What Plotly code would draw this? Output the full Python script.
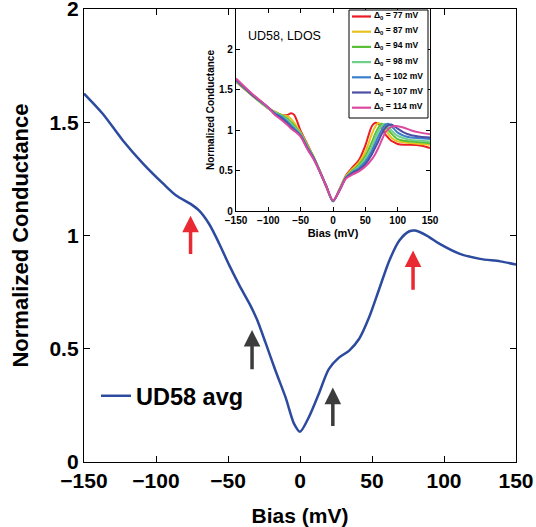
import plotly.graph_objects as go

# ---------------- data ----------------
bias_main = [-150, -137, -123, -109, -95, -86, -76, -70, -63, -56, -49, -42, -35, -30, -24, -17, -10, -4, 0,
             6, 13, 20, 27, 34, 41, 48, 55, 62, 69, 76, 80, 88, 97, 111, 125, 139, 150]
g_main = [1.627, 1.538, 1.42, 1.318, 1.229, 1.177, 1.14, 1.11, 1.05, 0.963, 0.867, 0.779, 0.698, 0.631, 0.528,
          0.403, 0.285, 0.167, 0.134, 0.196, 0.30, 0.41, 0.461, 0.491, 0.543, 0.639, 0.764, 0.889, 0.978, 1.019,
          1.022, 1.0, 0.963, 0.919, 0.897, 0.886, 0.872]
main_label = "UD58 avg"

bias_in = [-150, -125, -100, -90, -80, -70, -65, -60, -55, -50, -40, -30, -20, -10, 0, 10, 20, 30, 40, 50,
           60, 65, 70, 75, 80, 85, 90, 95, 100, 110, 120, 135, 150]
g_77 = [1.60, 1.43, 1.27, 1.23, 1.19, 1.19, 1.21, 1.19, 1.10, 0.99, 0.83, 0.67, 0.49, 0.29, 0.12, 0.27, 0.44,
        0.54, 0.63, 0.81, 1.05, 1.09, 1.08, 1.04, 0.96, 0.91, 0.87, 0.85, 0.83, 0.82, 0.82, 0.81, 0.78]
g_87 = [1.61, 1.43, 1.27, 1.23, 1.19, 1.17, 1.14, 1.09, 1.03, 0.97, 0.82, 0.67, 0.49, 0.30, 0.12, 0.27, 0.43,
        0.52, 0.60, 0.73, 0.95, 1.04, 1.09, 1.07, 1.02, 0.96, 0.91, 0.88, 0.86, 0.85, 0.84, 0.83, 0.82]
g_94 = [1.61, 1.43, 1.27, 1.22, 1.19, 1.14, 1.10, 1.06, 1.01, 0.96, 0.81, 0.67, 0.49, 0.30, 0.12, 0.26, 0.42,
        0.50, 0.57, 0.68, 0.85, 0.95, 1.03, 1.08, 1.06, 1.01, 0.96, 0.92, 0.89, 0.87, 0.86, 0.85, 0.84]
g_98 = [1.62, 1.44, 1.27, 1.22, 1.18, 1.12, 1.08, 1.04, 1.00, 0.95, 0.80, 0.66, 0.49, 0.30, 0.12, 0.26, 0.42,
        0.49, 0.55, 0.64, 0.79, 0.89, 0.98, 1.05, 1.08, 1.05, 1.00, 0.96, 0.93, 0.90, 0.88, 0.87, 0.86]
g_102 = [1.62, 1.44, 1.28, 1.21, 1.17, 1.10, 1.06, 1.02, 0.98, 0.94, 0.79, 0.66, 0.48, 0.30, 0.12, 0.26, 0.41,
         0.48, 0.53, 0.61, 0.74, 0.83, 0.92, 1.00, 1.06, 1.08, 1.05, 1.01, 0.97, 0.93, 0.91, 0.90, 0.89]
g_107 = [1.63, 1.44, 1.28, 1.20, 1.15, 1.08, 1.04, 1.00, 0.97, 0.93, 0.78, 0.65, 0.48, 0.30, 0.13, 0.25, 0.41,
         0.47, 0.51, 0.58, 0.70, 0.78, 0.86, 0.95, 1.02, 1.06, 1.07, 1.05, 1.02, 0.97, 0.94, 0.92, 0.91]
g_114 = [1.64, 1.45, 1.28, 1.19, 1.13, 1.06, 1.02, 0.99, 0.96, 0.92, 0.77, 0.64, 0.48, 0.30, 0.13, 0.25, 0.40,
         0.45, 0.49, 0.55, 0.64, 0.70, 0.78, 0.87, 0.96, 1.01, 1.04, 1.05, 1.05, 1.03, 1.00, 0.97, 0.95]
inset_series = [g_77, g_87, g_94, g_98, g_102, g_107, g_114]
delta_labels = ["77", "87", "94", "98", "102", "107", "114"]
inset_colors = ["#ec1c24", "#e6c21e", "#5cbf3a", "#6fd08c", "#3b7fcb", "#4d4fa6", "#dc4a9f"]

# arrows: x position, head value, tail value
arrow_x = [-76, 78.5, -33.3, 22.8]
arrow_head = [1.088, 0.934, 0.583, 0.329]
arrow_tail = [0.912, 0.754, 0.403, 0.152]
arrow_colors = ["#ea2a33", "#ea2a33", "#3c3c3c", "#3c3c3c"]

x_ticks = [-150, -100, -50, 0, 50, 100, 150]
y_ticks = [0, 0.5, 1, 1.5, 2]
y_ticktext = ["0", "0.5", "1", "1.5", "2"]

FONT = "Liberation Sans, Arial, sans-serif"

# layout geometry (pixels) -> paper coordinates
W, H = 536, 527
ML, MR, MT, MB = 84, 20, 9, 65
PW, PH = W - ML - MR, H - MT - MB


def px(xp):
    return (xp - ML) / PW


def py(yp):
    return (H - MB - yp) / PH


fig = go.Figure()
fig.add_trace(go.Scatter(x=bias_main, y=g_main, mode="lines", name=main_label,
                         line=dict(color="#2c4a9e", width=2.5, shape="spline", smoothing=0.8),
                         legend="legend2", xaxis="x", yaxis="y"))
for vals, lab, col in zip(inset_series, delta_labels, inset_colors):
    fig.add_trace(go.Scatter(x=bias_in, y=vals, mode="lines",
                             name="Δ<sub>0</sub> = " + lab + " mV",
                             line=dict(color=col, width=2, shape="spline", smoothing=0.8),
                             showlegend=False, xaxis="x2", yaxis="y2"))

for ax_, hd, tl, c in zip(arrow_x, arrow_head, arrow_tail, arrow_colors):
    fig.add_annotation(x=ax_, y=hd, ax=ax_, ay=tl, xref="x", yref="y", axref="x", ayref="y",
                       text="", showarrow=True, arrowhead=2, arrowsize=0.95, arrowwidth=3.5,
                       arrowcolor=c, standoff=0)

fig.add_annotation(x=-135, y=2.17, xref="x2", yref="y2", text="UD58, LDOS", showarrow=False,
                   xanchor="left", yanchor="middle", font=dict(family=FONT, size=12.5, color="black"))

# inset legend (box, line samples, labels)
shapes = [dict(type="rect", xref="paper", yref="paper", x0=px(349), x1=px(428), y0=py(118), y1=py(10),
               line=dict(color="black", width=1), fillcolor="white", layer="above")]
for i, (lab, col) in enumerate(zip(delta_labels, inset_colors)):
    yy = 16.5 + i * 15.2
    shapes.append(dict(type="line", xref="paper", yref="paper", x0=px(352), x1=px(371), y0=py(yy), y1=py(yy),
                       line=dict(color=col, width=2.2), layer="above"))
    fig.add_annotation(x=px(372), y=py(yy - 1), xref="paper", yref="paper", xanchor="left", yanchor="middle",
                       text="<b>Δ<sub>0</sub> = " + lab + " mV</b>", showarrow=False,
                       font=dict(family=FONT, size=8.5, color="black"))

axis_common = dict(showline=True, linecolor="black", linewidth=1.3, mirror="allticks",
                   ticks="inside", tickcolor="black", showgrid=False, zeroline=False,
                   ticklabeloverflow="allow", automargin=False)

fig.update_layout(
    width=W, height=H,
    margin=dict(l=ML, r=MR, t=MT, b=MB),
    paper_bgcolor="white", plot_bgcolor="white",
    font=dict(family=FONT, color="black"),
    shapes=shapes,
    xaxis=dict(domain=[0, 1], range=[-150, 150], tickvals=x_ticks, ticklen=6, anchor="y",
               tickfont=dict(size=21, family=FONT, weight="bold"),
               title=dict(text="<b>Bias (mV)</b>", font=dict(size=21), standoff=16),
               **axis_common),
    yaxis=dict(domain=[0, 1], range=[0, 2.0005], tickvals=y_ticks, ticktext=y_ticktext,
               ticklen=6, anchor="x",
               tickfont=dict(size=21, family=FONT, weight="bold"),
               title=dict(text="<b>Normalized Conductance</b>", font=dict(size=22), standoff=14),
               **axis_common),
    xaxis2=dict(domain=[px(236), px(430)], range=[-150, 150], tickvals=x_ticks, ticklen=4, anchor="y2",
                tickfont=dict(size=10, family=FONT, weight="bold"),
                title=dict(text="<b>Bias (mV)</b>", font=dict(size=11), standoff=4),
                **axis_common),
    yaxis2=dict(domain=[py(211), 1.0], range=[0, 2.5], tickvals=y_ticks, ticktext=y_ticktext,
                ticklen=4, anchor="x2",
                tickfont=dict(size=10, family=FONT, weight="bold"),
                title=dict(text="<b>Normalized Conductance</b>", font=dict(size=10), standoff=2),
                **axis_common),
    legend2=dict(x=px(96), y=py(396), xanchor="left", yanchor="middle", bgcolor="rgba(0,0,0,0)",
                 borderwidth=0, font=dict(size=23.5, family=FONT, weight="bold")),
    showlegend=True,
)

fig.write_html("out.html")
